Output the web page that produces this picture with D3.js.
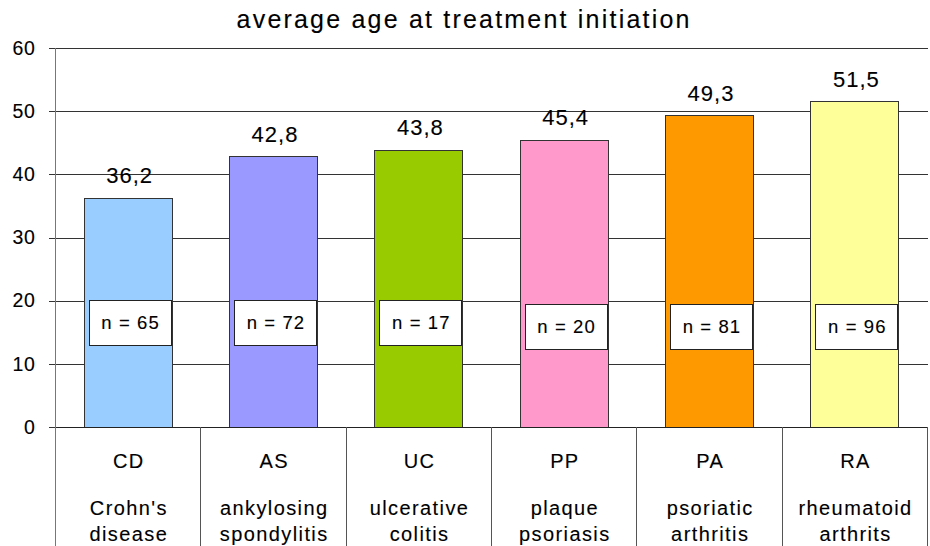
<!DOCTYPE html>
<html>
<head>
<meta charset="utf-8">
<script src="https://cdn.jsdelivr.net/npm/d3@7/dist/d3.min.js"></script>
<style>
  html, body { margin: 0; padding: 0; background: #fff; }
  svg { display: block; font-family: "Liberation Sans", Arial, sans-serif; }
  svg text { stroke: #000; stroke-width: 0.12px; }
</style>
</head>
<body>
<svg id="chart" width="930" height="546"></svg>
<script>
const title = "average age at treatment initiation";
const codes = ["CD", "AS", "UC", "PP", "PA", "RA"];
const names = [["Crohn's", "disease"], ["ankylosing", "spondylitis"], ["ulcerative", "colitis"],
               ["plaque", "psoriasis"], ["psoriatic", "arthritis"], ["rheumatoid", "arthrits"]];
const ages = [36.2, 42.8, 43.8, 45.4, 49.3, 51.5];
const ageLabels = ["36,2", "42,8", "43,8", "45,4", "49,3", "51,5"];
const counts = [65, 72, 17, 20, 81, 96];
const colors = ["#99CCFF", "#9999FF", "#99CC00", "#FF99CC", "#FF9900", "#FFFF99"];
const yTicks = [0, 10, 20, 30, 40, 50, 60];

const svg = d3.select("#chart");
const pLeft = 55.5, pRight = 927.5, pTop = 48, pBottom = 427;

const x = d3.scaleBand().domain(codes).range([pLeft, pRight]).paddingInner(0).paddingOuter(0);
const y = d3.scaleLinear().domain([0, 60]).range([pBottom, pTop]);

// title
svg.append("text").attr("x", 463 + 1.1).attr("y", 28).attr("text-anchor", "middle")
  .attr("font-size", 25).attr("letter-spacing", 2.2).attr("fill", "#000").text(title);

// gridlines via axis
const yAxis = d3.axisLeft(y).tickValues(yTicks).tickSize(-(pRight - pLeft) - 7).tickPadding(12)
  .tickFormat(d3.format("d"));
const gy = svg.append("g").attr("transform", `translate(${pRight},0)`).call(yAxis);
gy.select(".domain").remove();
gy.selectAll(".tick line").attr("stroke", "#333").attr("x1", 0)
  .attr("x2", -(pRight - pLeft) - 7).attr("shape-rendering", "crispEdges");
gy.selectAll(".tick text").remove();
const gl = svg.append("g").attr("transform", `translate(${pLeft},0)`)
  .call(d3.axisLeft(y).tickValues(yTicks).tickSize(0).tickPadding(20).tickFormat(d3.format("d")));
gl.select(".domain").remove();
gl.selectAll(".tick text").attr("font-size", 19.5).attr("letter-spacing", 0.6).attr("fill", "#000")
  .attr("font-family", "'Liberation Sans', Arial, sans-serif");

// left axis line
svg.append("line").attr("x1", pLeft).attr("x2", pLeft).attr("y1", pTop).attr("y2", 546)
  .attr("stroke", "#777").attr("shape-rendering", "crispEdges");

// bars
const bw = x.bandwidth() * 0.605;
svg.append("g").selectAll("rect").data(codes).join("rect")
  .attr("x", d => x(d) + x.bandwidth() / 2 - bw / 2)
  .attr("width", bw)
  .attr("y", (d, i) => y(ages[i]))
  .attr("height", (d, i) => y(0) - y(ages[i]))
  .attr("fill", (d, i) => colors[i])
  .attr("stroke", "#333").attr("stroke-width", 1).attr("shape-rendering", "crispEdges");

// value labels
svg.append("g").selectAll("text").data(codes).join("text")
  .attr("x", d => x(d) + x.bandwidth() / 2 + 1.5)
  .attr("y", (d, i) => y(ages[i]) - 15)
  .attr("text-anchor", "middle").attr("font-size", 22).attr("letter-spacing", 1)
  .attr("fill", "#000").text((d, i) => ageLabels[i]);

// n boxes
const boxW = 82, boxH = 45;
const nb = svg.append("g").selectAll("g").data(codes).join("g")
  .attr("transform", (d, i) => {
    const bx = x(d) + x.bandwidth() / 2 + bw / 2 - boxW - 1;
    const by = i < 3 ? 300 : 304;
    return `translate(${bx},${by})`;
  });
nb.append("rect").attr("width", boxW).attr("height", boxH)
  .attr("fill", "#fff").attr("stroke", "#222").attr("shape-rendering", "crispEdges");
nb.append("text").attr("x", boxW / 2 + 0.5).attr("y", boxH / 2 + 6.5).attr("text-anchor", "middle")
  .attr("font-size", 18.5).attr("letter-spacing", 1.1).attr("fill", "#000")
  .text((d, i) => "n = " + counts[i]);

// category table
svg.append("line").attr("x1", pLeft).attr("x2", pRight).attr("y1", pBottom).attr("y2", pBottom)
  .attr("stroke", "#222").attr("shape-rendering", "crispEdges");
svg.append("g").selectAll("line").data(codes).join("line")
  .attr("x1", d => x(d) + x.bandwidth()).attr("x2", d => x(d) + x.bandwidth())
  .attr("y1", pBottom).attr("y2", 546)
  .attr("stroke", "#555").attr("shape-rendering", "crispEdges");
const cat = svg.append("g").selectAll("g").data(codes).join("g")
  .attr("transform", d => `translate(${x(d) + x.bandwidth() / 2 + 0.7},0)`);
cat.append("text").attr("y", 467.5).attr("text-anchor", "middle").attr("font-size", 20)
  .attr("letter-spacing", 1.4).attr("fill", "#000").text(d => d);
cat.append("text").attr("y", 514.5).attr("text-anchor", "middle").attr("font-size", 20)
  .attr("letter-spacing", 1.4).attr("fill", "#000").text((d, i) => names[i][0]);
cat.append("text").attr("y", 540.5).attr("text-anchor", "middle").attr("font-size", 20)
  .attr("letter-spacing", 1.4).attr("fill", "#000").text((d, i) => names[i][1]);
</script>
</body>
</html>
